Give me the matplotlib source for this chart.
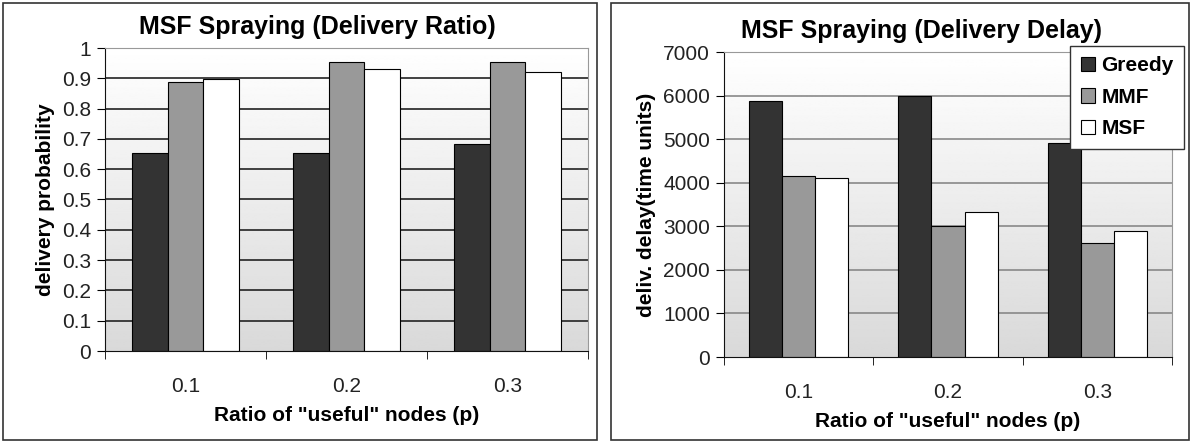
import numpy as np
import matplotlib.pyplot as plt
from matplotlib.patches import Rectangle

plt.rcParams['font.family'] = ['Liberation Sans', 'DejaVu Sans']

categories = ["0.1", "0.2", "0.3"]
series = ["Greedy", "MMF", "MSF"]
colors = ["#333333", "#999999", "#ffffff"]

ratio_greedy = [0.653, 0.653, 0.683]
ratio_mmf = [0.888, 0.955, 0.955]
ratio_msf = [0.899, 0.931, 0.922]

delay_greedy = [5877, 6000, 4900]
delay_mmf = [4150, 3010, 2620]
delay_msf = [4110, 3318, 2890]

W, H = 1198, 444
fig = plt.figure(figsize=(W / 100, H / 100), dpi=100)

grad = np.linspace(1.0, 0.85, 256).reshape(-1, 1)


def setup(ax, data, ylim, yticks, gridcolor, title, ylabel):
    x = np.arange(len(categories))
    bw = 0.222
    ax.imshow(grad, cmap='gray', vmin=0, vmax=1, aspect='auto',
              extent=(0, 1, 0, 1), transform=ax.transAxes, zorder=0)
    for yt in yticks[1:]:
        ax.axhline(yt, color=gridcolor, lw=1.2, zorder=1)
    for i, (vals, c) in enumerate(zip(data, colors)):
        ax.bar(x + (i - 1) * bw, vals, bw, color=c, edgecolor='black',
               lw=0.8, zorder=2, label=series[i])
    ax.set_xlim(-0.5, 2.5)
    ax.set_ylim(*ylim)
    ax.set_yticks(yticks)
    ax.set_yticklabels([f"{t:g}" for t in yticks])
    ax.set_xticks(x)
    ax.set_xticklabels(categories)
    ax.set_xticks([-0.5, 0.5, 1.5, 2.5], minor=True)
    ax.tick_params(axis='x', which='major', length=0, pad=19)
    ax.tick_params(axis='x', which='minor', length=6, direction='out')
    ax.tick_params(axis='y', length=6, direction='out', pad=4)
    ax.tick_params(labelsize=15, labelcolor='#222222')
    for s in ['top', 'right']:
        ax.spines[s].set_color('#999999')
    for s in ['left', 'bottom']:
        ax.spines[s].set_color('#111111')
    ax.set_title(title, fontsize=18, fontweight='bold', pad=10, x=0.44)
    ax.set_ylabel(ylabel, fontsize=15, fontweight='bold', labelpad=5)
    ax.set_xlabel('Ratio of "useful" nodes (p)', fontsize=15, fontweight='bold', labelpad=7)


ax1 = fig.add_axes([105 / W, 1 - 351 / H, 483 / W, 303 / H])
setup(ax1, [ratio_greedy, ratio_mmf, ratio_msf], (0, 1),
      [round(v, 1) for v in np.arange(0, 1.01, 0.1)], '#222222',
      'MSF Spraying (Delivery Ratio)', 'delivery probability')

ax2 = fig.add_axes([724 / W, 1 - 357 / H, 448 / W, 305 / H])
setup(ax2, [delay_greedy, delay_mmf, delay_msf], (0, 7000),
      list(range(0, 7001, 1000)), '#888888',
      'MSF Spraying (Delivery Delay)', 'deliv. delay(time units)')

handles, labels = ax2.get_legend_handles_labels()
leg = fig.legend(handles, labels, loc='upper right',
                 bbox_to_anchor=(1184 / W, 1 - 46 / H),
                 prop={'size': 15, 'weight': 'bold'},
                 handlelength=0.7, handleheight=0.7, handletextpad=0.3,
                 labelspacing=0.6, borderpad=0.5, borderaxespad=0,
                 fancybox=False, framealpha=1, edgecolor='#333333')
leg.get_frame().set_linewidth(1.0)

fig.add_artist(Rectangle((3 / W, 1 - 440 / H), 594 / W, 437 / H, transform=fig.transFigure,
                         fill=False, ec='#333333', lw=1.2))
fig.add_artist(Rectangle((611 / W, 1 - 440 / H), 578 / W, 437 / H, transform=fig.transFigure,
                         fill=False, ec='#333333', lw=1.2))

fig.savefig('out.png', dpi=100)
